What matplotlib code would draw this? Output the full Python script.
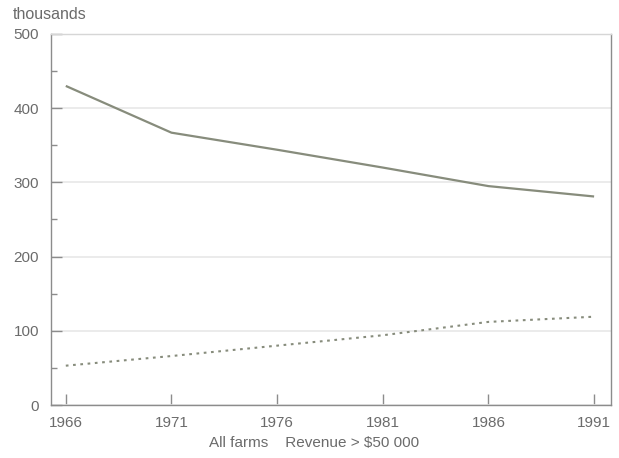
import matplotlib
matplotlib.use("Agg")
import matplotlib.pyplot as plt
from matplotlib.ticker import MultipleLocator

# Census farm counts, thousands
years = [1966, 1971, 1976, 1981, 1986, 1991]
all_farms = [430, 367, 344, 320, 295, 281]
revenue_over_50k = [53, 66, 80, 94, 112, 119]

y_ticks = [0, 100, 200, 300, 400, 500]

plt.rcParams["font.family"] = ["Liberation Sans", "DejaVu Sans"]

text_col = "#6b6b6b"
axis_col = "#8c8c8c"
line_col = "#878c7c"

fig = plt.figure(figsize=(6.19, 4.58), dpi=100)
ax = fig.add_axes([0.0824, 0.1157, 0.9047, 0.8101])

ax.plot(years, all_farms, color=line_col, lw=1.6, solid_capstyle="butt")
ax.plot(years, revenue_over_50k, color=line_col, lw=1.5, linestyle=(0, (1.3, 2.2)))

ax.set_xlim(1965.3, 1991.8)
ax.set_ylim(0, 500)
ax.set_xticks(years)
ax.set_yticks(y_ticks)
ax.yaxis.set_minor_locator(MultipleLocator(50))

ax.grid(axis="y", which="major", color="#e8e8e8", lw=1.2)
ax.set_axisbelow(True)

for side in ("left", "bottom", "right"):
    ax.spines[side].set_color(axis_col)
    ax.spines[side].set_linewidth(1.0)
ax.spines["top"].set_color("#d6d6d6")
ax.spines["top"].set_linewidth(1.0)

ax.tick_params(axis="both", which="major", direction="in", length=8,
               color=axis_col, labelcolor=text_col, labelsize=11, width=1.0)
ax.tick_params(axis="y", which="minor", direction="in", length=4,
               color=axis_col, width=1.0)
ax.tick_params(axis="y", which="major", pad=8.5)
ax.tick_params(axis="x", which="major", pad=8)

fig.text(0.020, 0.969, "thousands", color=text_col, fontsize=11.5,
         ha="left", va="center")
fig.text(0.507, 0.033, "All farms    Revenue > $50 000", color=text_col,
         fontsize=11, ha="center", va="center")

fig.savefig("out.png", dpi=100, facecolor="white")
